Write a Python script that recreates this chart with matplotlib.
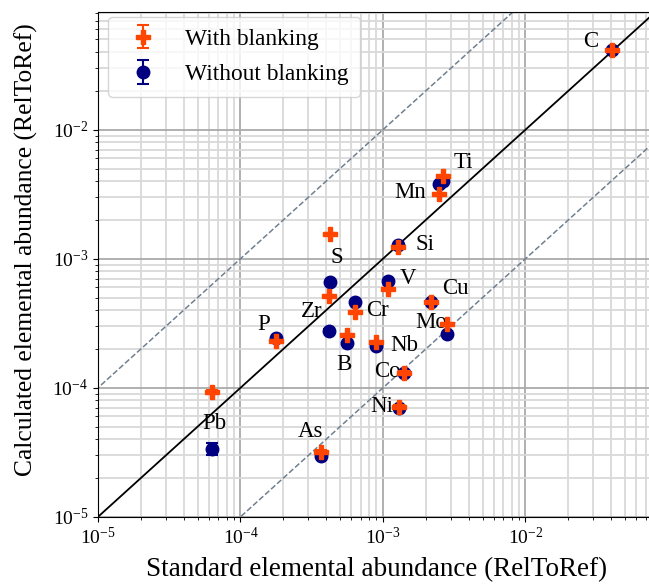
import numpy as np
import matplotlib
matplotlib.use("Agg")
from matplotlib import pyplot as plt

plt.rcParams['font.family'] = 'Liberation Serif'
plt.rcParams['mathtext.fontset'] = 'stix'

elements = ['C', 'Ti', 'Mn', 'Si', 'S', 'V', 'Cu', 'Cr', 'Zr', 'Mo', 'Nb', 'B', 'Co', 'Ni', 'P', 'Pb', 'As']
standard = [0.0405, 0.00262, 0.00248, 0.00127, 4.25e-4, 1.08e-3, 2.17e-3, 6.36e-4, 4.2e-4, 2.81e-3,
            8.93e-4, 5.59e-4, 1.40e-3, 1.30e-3, 1.77e-4, 6.3e-5, 3.67e-4]
with_blank = [0.0417, 0.0044, 0.00319, 0.00124, 1.56e-3, 5.85e-4, 4.64e-4, 3.88e-4, 5.17e-4, 3.13e-4,
              2.27e-4, 2.58e-4, 1.31e-4, 7.1e-5, 2.31e-4, 9.3e-5, 3.19e-5]
without_blank = [0.0415, 0.0040, 0.0038, 0.00128, 6.63e-4, 6.75e-4, 4.66e-4, 4.64e-4, 2.77e-4, 2.62e-4,
                 2.12e-4, 2.23e-4, 1.30e-4, 7.0e-5, 2.44e-4, 3.37e-5, 2.97e-5]
err_with = [0.0008, 0.00008, 0.00006, 0.00002, 0.00003, 0.00001, 0.000008, 0.000008, 0.00001, 0.000006,
            0.000005, 0.000005, 0.000003, 0.000002, 0.000005, 0.000003, 0.000001]
err_without = [0.0008, 0.00008, 0.00007, 0.00002, 0.000015, 0.000012, 0.000008, 0.000009, 0.000006, 0.000006,
               0.000005, 0.000005, 0.000003, 0.000002, 0.000005, 0.0000035, 0.000001]
# label offsets in pixels (dx, dy) from the "with blanking" point
label_offsets = [(-21, 8), (21, 13), (-29, 1), (27, 2), (7, -24), (20, 10), (24, 13), (23, 1), (-18, -16),
                 (-16, 1), (28, -4), (-3, -30), (-16, 1), (-17, 0), (-12, 16), (2, -32), (-10, 20)]

fig = plt.figure(figsize=(6.49, 5.86), dpi=100)
# axes runs a little past the right edge of the picture (no right spine visible)
ax = fig.add_axes([0.151, 0.118, 0.8598, 0.862])

ax.errorbar(standard, without_blank, yerr=err_without, fmt='o', color='navy', markersize=9,
            capsize=4, elinewidth=1.5, capthick=1.5, label='Without blanking', zorder=3)
ax.errorbar(standard, with_blank, yerr=err_with, fmt='P', color='orangered', markersize=10,
            capsize=4, elinewidth=1.5, capthick=1.5, label='With blanking', zorder=4)

for el, x, y, off in zip(elements, standard, with_blank, label_offsets):
    ax.annotate(el, (x, y), xytext=off, textcoords='offset pixels', fontsize=16.5,
                ha='center', va='center')

line = np.array([1e-6, 1.0])
ax.plot(line, line, color='black', lw=1.3, zorder=2)
ax.plot(line, line * 10, color='slategray', ls='--', lw=1.1, zorder=2)
ax.plot(line, line / 10, color='slategray', ls='--', lw=1.1, zorder=2)

ax.set_xscale('log')
ax.set_yscale('log')
ax.set_xlim(1e-5, 0.0824)
ax.set_ylim(1e-5, 0.082)
ax.grid(True, which='major', color='#aaaaaa', lw=1.3)
ax.grid(True, which='minor', color='#d9d9d9', lw=1.3)
ax.set_axisbelow(True)
ax.tick_params(labelsize=14)

ax.set_xlabel('Standard elemental abundance (RelToRef)', fontsize=19.5, labelpad=7)
ax.set_ylabel('Calculated elemental abundance (RelToRef)', fontsize=18.4, labelpad=10)
ax.yaxis.label.set_y(0.529)

handles, labels = ax.get_legend_handles_labels()
ax.legend(handles[::-1], labels[::-1], loc='upper left', bbox_to_anchor=(0.018, 0.99),
          borderaxespad=0, fontsize=16.8, borderpad=0.5, handletextpad=0.8, handlelength=2.0,
          labelspacing=0.6)

fig.savefig('out.png', dpi=100)
